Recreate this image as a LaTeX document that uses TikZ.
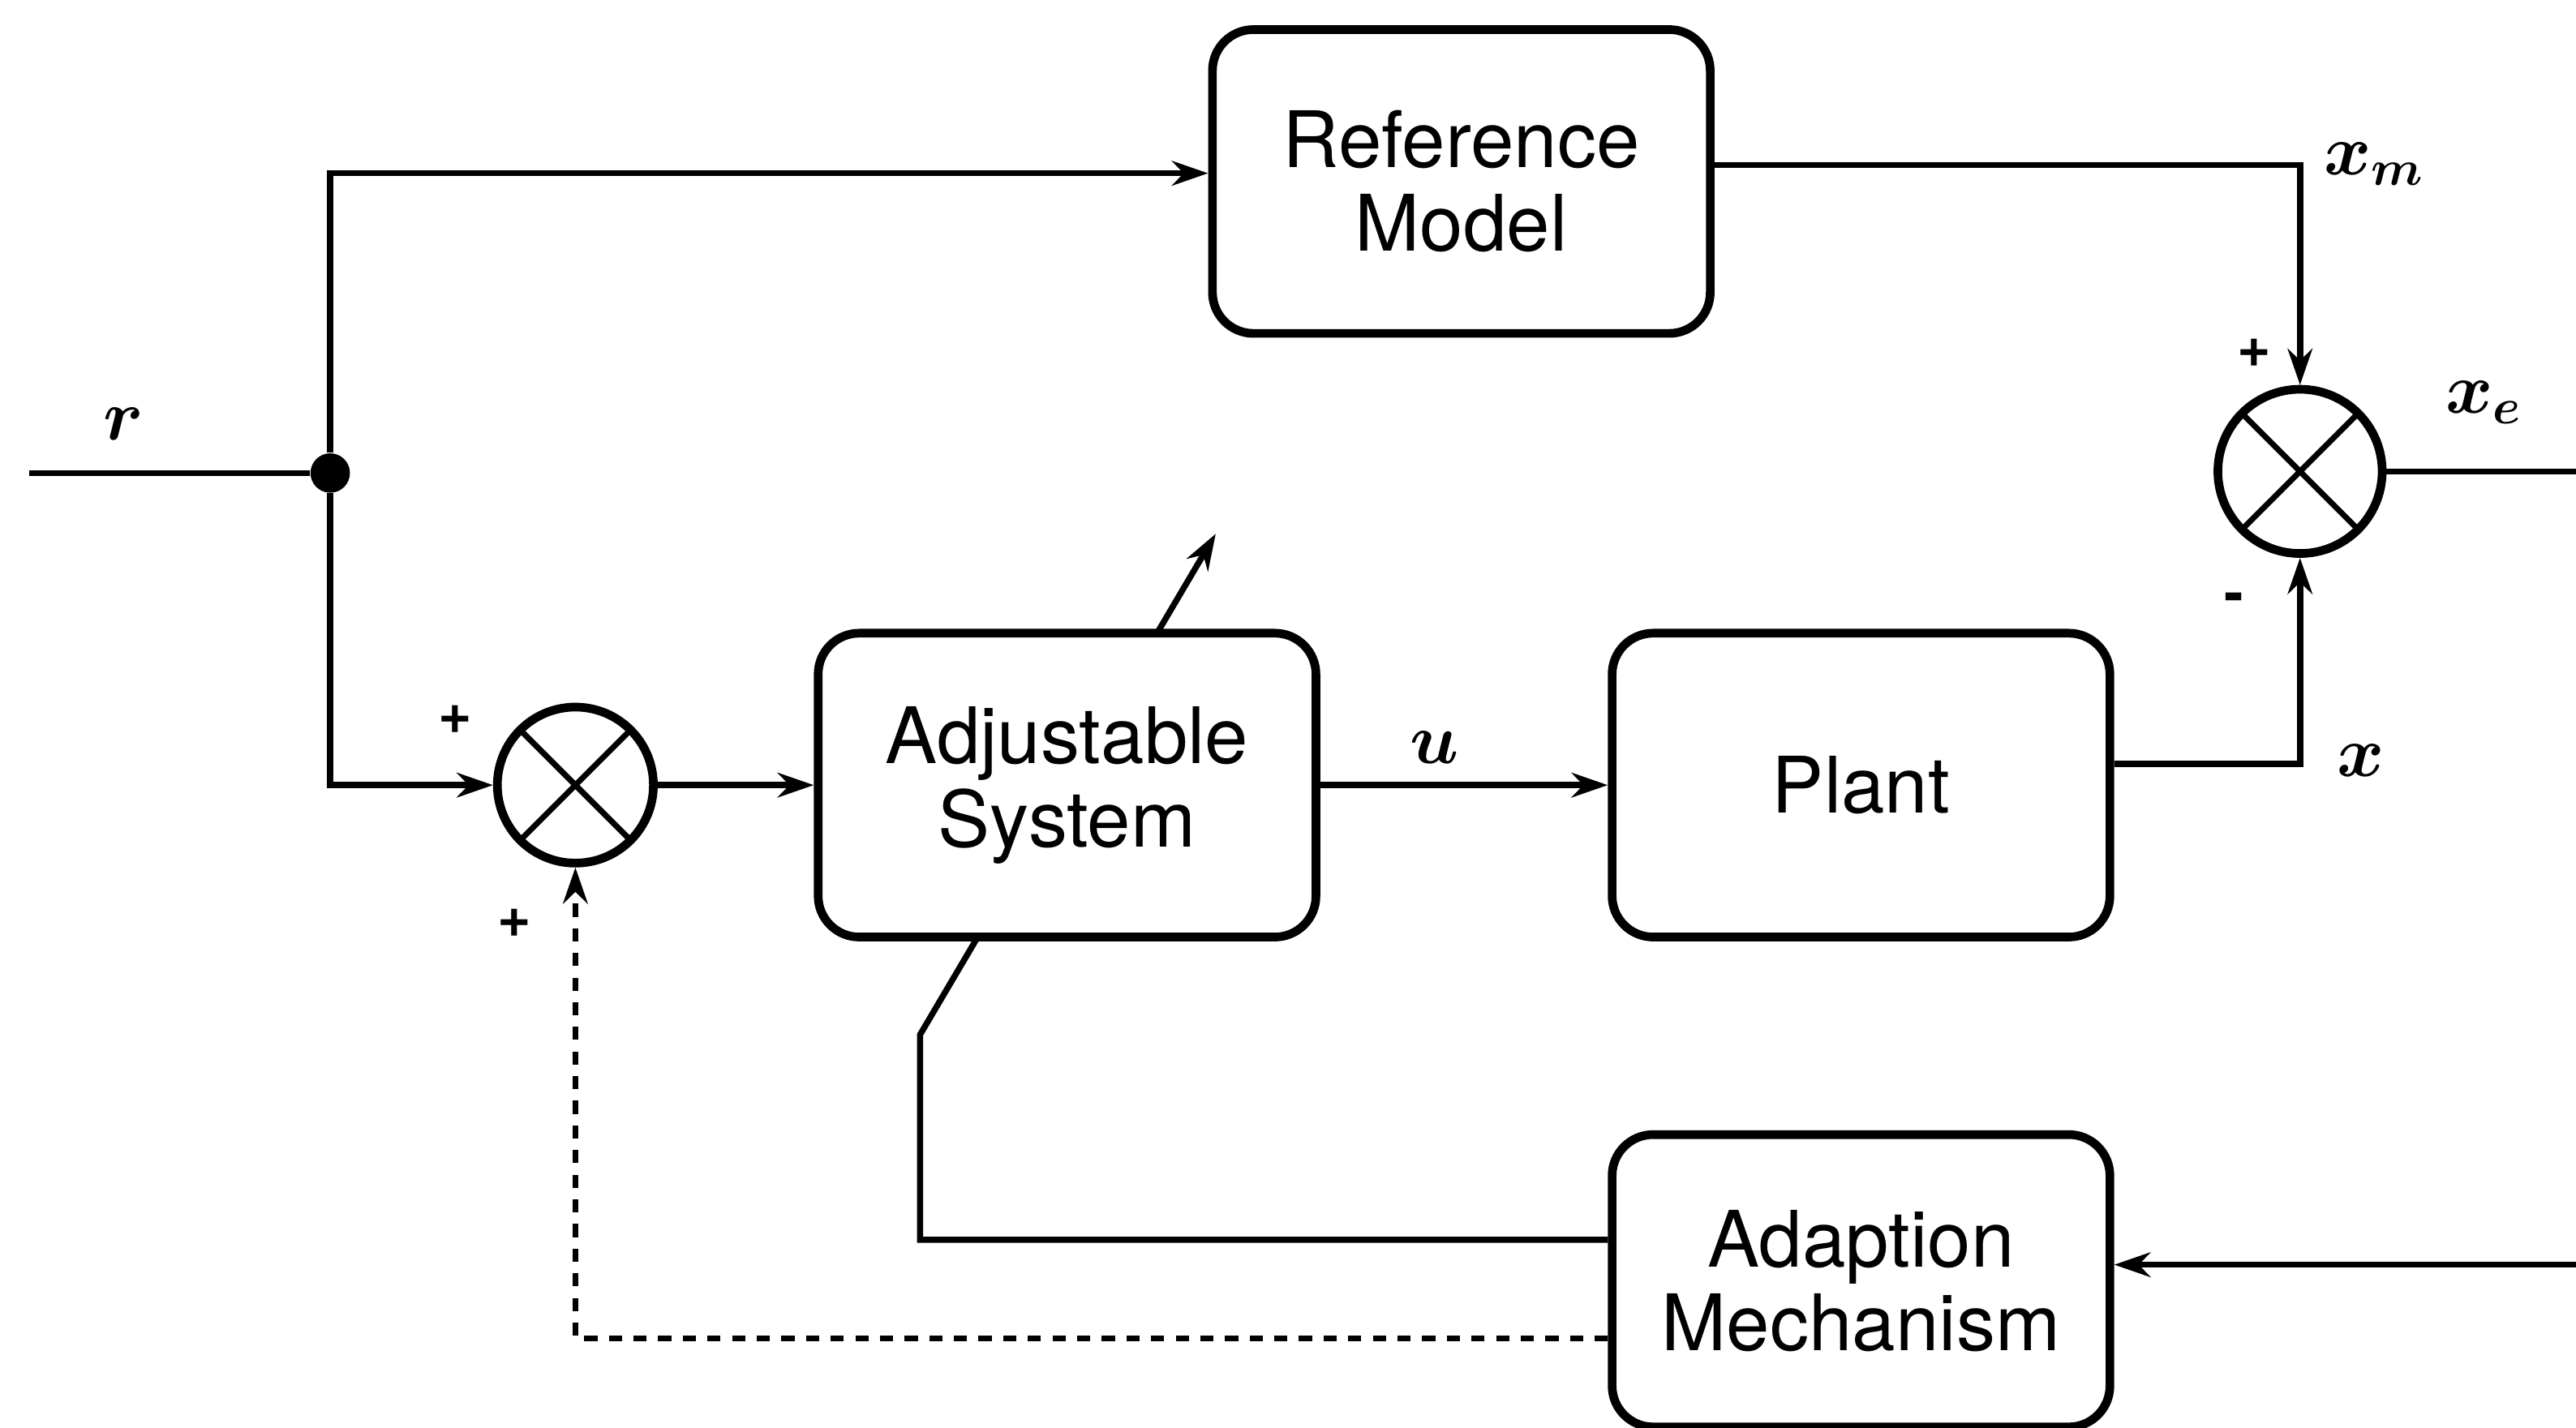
\documentclass[tikz,border=0pt]{standalone}
\usepackage{amsmath}
\usepackage{fontspec}
\setmainfont{TeX Gyre Heros}
\usetikzlibrary{arrows.meta,positioning,backgrounds}
\tikzstyle{block}=[draw,line width=3pt,rounded corners=0.5cm,minimum width=6.06cm,minimum height=3.7cm,align=center,fill=white,font=\fontsize{27}{29}\selectfont]
\tikzstyle{mixer}=[draw,circle,line width=3pt,minimum size=1.9cm,fill=white,
  path picture={\draw[line width=2pt] (path picture bounding box.north west) -- (path picture bounding box.south east)
    (path picture bounding box.north east) -- (path picture bounding box.south west);}]
\tikzstyle{dot}=[circle,fill,inner sep=0pt,minimum size=0.48cm]
\tikzstyle{wire}=[line width=2.1pt,>={Stealth[length=0.44cm,width=0.3cm]}]
\tikzstyle{lbl}=[font=\fontsize{24}{24}\selectfont\boldmath]
\tikzstyle{sgn}=[font=\fontsize{20}{20}\selectfont\bfseries]

\begin{document}
\begin{tikzpicture}[node distance=2cm]
  \useasboundingbox (0,0) rectangle (31.36,17.38);
  \node[block] (adj) at (12.99,7.82) {Adjustable\\System};
  \node[block] (plant) [right=3.5cm of adj] {Plant};
  \node[block,minimum height=3.56cm] (adapt) [below=2.3cm of plant] {Adaption\\Mechanism};
  \node[block] (ref) at (17.79,15.17) {Reference\\Model};
  \node[mixer] (s1) [left=1.9cm of adj] {};
  \node[mixer,minimum size=2cm] (s2) at (28,11.64) {};
  \node[dot] (j) at (4.02,11.62) {};
  \coordinate (rin) at (0.36,11.62);
  \coordinate (xeout) at (31.36,11.64);
  \coordinate (xein) at (31.36,1.98);
  \coordinate (bend) at (11.2,4.78);
  \coordinate (tip) at (14.8,10.88);

  % signals
  \draw[wire] (rin) -- (j);
  \draw[wire,->] (j) |- ([yshift=0.1cm]ref.west);
  \draw[wire,->] (j) |- (s1);
  \draw[wire,->] (s1) -- (adj);
  \draw[wire,->] (adj) -- (plant);
  \draw[wire,->] ([yshift=0.2cm]ref.east) -| (s2);
  \draw[wire,->] ([yshift=0.26cm]plant.east) -| (s2);
  \draw[wire] (s2) -- (xeout);
  \draw[wire,->] (xein) -- (xein -| adapt.east);
  \draw[wire,dash pattern=on 0.16cm off 0.14cm,->] ([yshift=-0.7cm]adapt.west) -| (s1);
  \begin{scope}[on background layer]
    \draw[wire,->] ([yshift=0.5cm]adapt.west) -| (bend) -- (tip);
  \end{scope}

  % labels
  \node[lbl] (rlab) at (1.5,12.22) {$r$};
  \node[lbl] (xmlab) at (28.9,15.38) {$x_m$};
  \node[lbl] (xelab) at (30.24,12.48) {$x_e$};
  \node[lbl] (xlab) at (28.74,8.12) {$x$};
  \node[lbl] (ulab) at (17.46,8.28) {$u$};
  \node[sgn] (p1) at (27.44,13.08) {+};
  \node[sgn] (m1) at (27.2,10.04) {-};
  \node[sgn] (p2) at (5.54,8.62) {+};
  \node[sgn] (p3) at (6.26,6.14) {+};
\end{tikzpicture}
\end{document}
